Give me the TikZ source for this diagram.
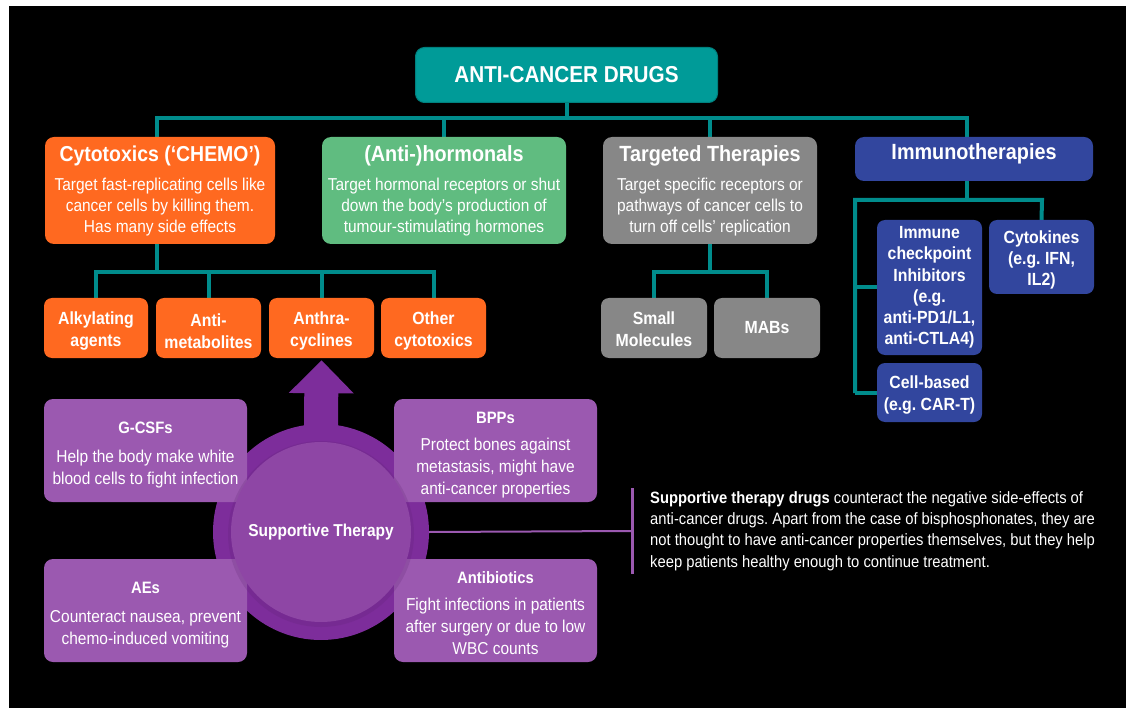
\documentclass[tikz,border=0pt]{standalone}
\usepackage{fontspec}
\setmainfont{Liberation Sans}[FakeStretch=0.9]
\usetikzlibrary{arrows.meta}
\pgfdeclarelayer{bg}
\pgfdeclarelayer{lines}
\pgfsetlayers{bg,lines,main}
\frenchspacing
\newcommand{\tup}[1]{\rule{0pt}{#1pt}}
\definecolor{tealfill}{RGB}{0,155,152}
\definecolor{tealdark}{RGB}{0,128,126}
\definecolor{tealline}{RGB}{0,140,140}
\definecolor{orangec}{RGB}{255,105,32}
\definecolor{greenc}{RGB}{96,188,128}
\definecolor{greyc}{RGB}{135,135,135}
\definecolor{bluec}{RGB}{50,70,158}
\definecolor{purplebox}{RGB}{155,89,176}
\definecolor{ringcol}{RGB}{125,45,155}
\definecolor{innercol}{RGB}{142,70,165}
\begin{document}
\begin{tikzpicture}[x=1pt,y=-1pt,
  box/.style={rounded corners=9pt, inner sep=0pt, align=center, text=white},
  catbox/.style={box, font=\fontsize{17.2}{21}\selectfont},
  subbox/.style={box, rounded corners=8pt, font=\fontsize{17.6}{22}\selectfont\bfseries, minimum height=60pt},
  imbox/.style={box, rounded corners=8pt, fill=bluec, minimum width=105pt, font=\fontsize{17.6}{21.3}\selectfont\bfseries},
  pbox/.style={box, rounded corners=9pt, fill=purplebox, minimum width=203pt, minimum height=103pt, font=\fontsize{17.2}{22}\selectfont},
  tl/.style={draw=tealline, line width=4pt},
  pl/.style={draw=purplebox},
  cattitle/.style={font=\fontsize{22}{24}\selectfont\bfseries}
]
\useasboundingbox (0,0) rectangle (1126,708);
\begin{pgfonlayer}{bg}
\fill[white] (0,0) rectangle (1126,708);
\fill[black] (9,6) rectangle (1126,708);
\end{pgfonlayer}

% title
\node[box, fill=tealfill, draw=tealdark, line width=1pt, minimum width=302pt, minimum height=55pt,
  font=\fontsize{23}{26}\selectfont\bfseries] (title) at (566.5,75) {ANTI-CANCER DRUGS};

% categories
\node[catbox, fill=orangec, minimum width=230pt, minimum height=107pt] (cyto) at (160,190.5)
  {{\fontsize{21.6}{24}\selectfont\bfseries Cytotoxics (‘CHEMO’)}\\[8pt]Target fast-replicating cells like\\cancer cells by killing them.\\Has many side effects};
\node[catbox, fill=greenc, minimum width=244pt, minimum height=107pt] (horm) at (444,190.5)
  {{\fontsize{22}{24}\selectfont\bfseries (Anti-)hormonals}\\[8pt]Target hormonal receptors or shut\\down the body’s production of\\tumour-stimulating hormones};
\node[catbox, fill=greyc, minimum width=214pt, minimum height=107pt] (targ) at (710,190.5)
  {{\fontsize{22}{24}\selectfont\bfseries Targeted Therapies}\\[8pt]Target specific receptors or\\pathways of cancer cells to\\turn off cells’ replication};
\node[box, fill=bluec, minimum width=238pt, minimum height=44pt] (immuno) at (974,159) {};
\node[cattitle, text=white, inner sep=0pt] (immunolbl) at (974,154) {Immunotherapies};

% cytotoxic sub boxes
\node[subbox, fill=orangec, minimum width=104pt] (alk) at (96,328) {\tup{18.5}Alkylating\\agents};
\node[subbox, fill=orangec, minimum width=105pt] (antim) at (208.5,328) {\tup{18.5}Anti-\\metabolites};
\node[subbox, fill=orangec, minimum width=105pt] (anth) at (321.5,328) {\tup{18.5}Anthra-\\cyclines};
\node[subbox, fill=orangec, minimum width=105pt] (other) at (433.5,328) {\tup{18.5}Other\\cytotoxics};

% targeted sub boxes
\node[subbox, fill=greyc, minimum width=106pt] (small) at (654,328) {\tup{16}Small\\Molecules};
\node[subbox, fill=greyc, minimum width=106pt] (mabs) at (767,328) {MABs};

% immuno sub boxes
\node[imbox, minimum height=135pt] (ici) at (929.5,287.5) {Immune\\checkpoint\\Inhibitors\\(e.g.\\anti-PD1/L1,\\anti-CTLA4)};
\node[imbox, minimum height=74pt] (cyt) at (1041.5,257) {\tup{19}Cytokines\\(e.g. IFN,\\IL2)};
\node[imbox, minimum height=59pt] (cell) at (929.5,392.5) {\tup{18}Cell-based\\(e.g. CAR-T)};

% teal connectors
\coordinate (busL) at (157,118);
\coordinate (busR) at (967,118);
\coordinate (cytoBus) at (157,272);
\coordinate (targBus) at (710,272);
\coordinate (imBus) at (967,200);
\coordinate (imL) at (855,200);
\coordinate (imR) at (1042,200);
\coordinate (imLbot) at (855,393);
\begin{pgfonlayer}{lines}
\draw[tl] (title.south) -- (title.south |- busL);
\draw[tl, line cap=rect] (busL) -- (busR);
\draw[tl] (busL) -- (cytoBus);
\draw[tl] (horm.north |- busL) -- (horm.north);
\draw[tl] (targ.north |- busL) -- (targBus);
\draw[tl] (busR) -- (imBus);
% cytotoxic subtree
\draw[tl] (alk.north) -- (alk.north |- cytoBus) -- (other.north |- cytoBus) -- (other.north);
\draw[tl] (antim.north |- cytoBus) -- (antim.north);
\draw[tl] (anth.north |- cytoBus) -- (anth.north);
% targeted subtree
\draw[tl] (small.north) -- (small.north |- targBus) -- (mabs.north |- targBus) -- (mabs.north);
% immuno subtree
\draw[tl] (imLbot) -- (imL) -- (imR) -- (cyt.north);
\draw[tl] (imL |- ici.west) -- (ici.west);
\draw[tl] (imLbot) -- (cell.west |- imLbot);
\end{pgfonlayer}

% supportive therapy
\node[circle, fill=ringcol, minimum size=216pt, inner sep=0pt] (ring) at (321,532) {};
\draw[ringcol, line width=34pt, -{Triangle[width=63pt,length=33pt]}]
  ([yshift=-8pt]ring.north) -- ([yshift=-2pt]anth.south);

\node[pbox] (gcsf) at (145.5,450.5) {{\fontsize{16.5}{22}\selectfont\bfseries \tup{20}G-CSFs}\\[7pt]Help the body make white\\blood cells to fight infection};
\node[pbox] (bpp) at (495.5,450.5) {{\fontsize{16.5}{22}\selectfont\bfseries \tup{21}BPPs}\\[5pt]Protect bones against\\metastasis, might have\\anti-cancer properties};
\node[pbox] (aes) at (145.5,610.5) {{\fontsize{16.5}{22}\selectfont\bfseries \tup{20}AEs}\\[7pt]Counteract nausea, prevent\\chemo-induced vomiting};
\node[pbox] (abx) at (495.5,610.5) {{\fontsize{16.5}{22}\selectfont\bfseries \tup{18}Antibiotics}\\[5pt]Fight infections in patients\\after surgery or due to low\\WBC counts};

\node[circle, fill=ringcol!70!black, opacity=0.18, minimum size=186pt, inner sep=0pt] (shadow) at (321,534) {};
\node[circle, fill=innercol, minimum size=180pt, inner sep=0pt, text=white,
  font=\fontsize{17.2}{20}\selectfont\bfseries] (inner) at (321,532) {Supportive Therapy};

% side note
\coordinate (vbar) at (632,531);
\coordinate (vbarT) at (632,488);
\coordinate (vbarB) at (632,574);
\draw[pl, line width=2pt] (ring.east) -- (vbar);
\draw[pl, line width=3pt] (vbarT) -- (vbarB);
\node[anchor=west, align=left, inner sep=0pt, text=white, font=\fontsize{16.4}{21.3}\selectfont] (para) at (650,531)
  {\textbf{Supportive therapy drugs} counteract the negative side-effects of\\
   anti-cancer drugs. Apart from the case of bisphosphonates, they are\\
   not thought to have anti-cancer properties themselves, but they help\\
   keep patients healthy enough to continue treatment.};
\end{tikzpicture}
\end{document}
